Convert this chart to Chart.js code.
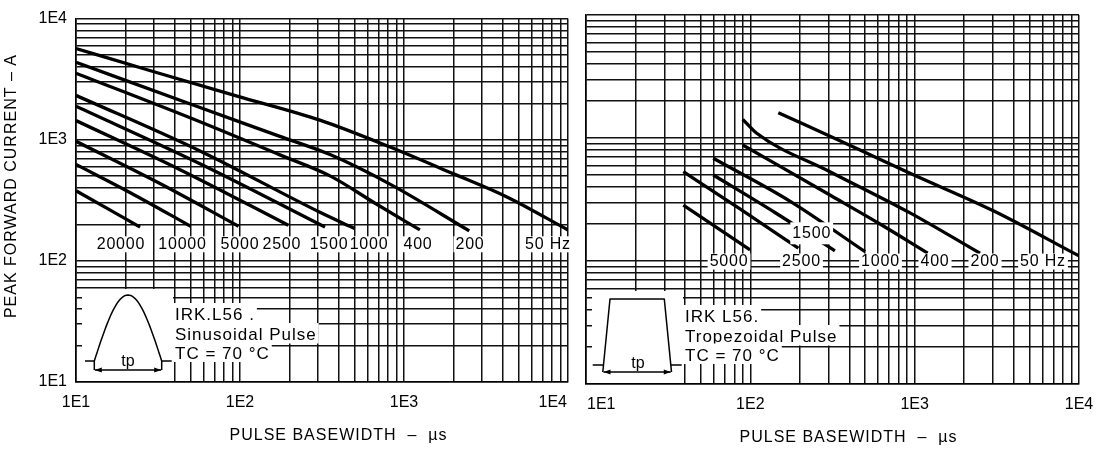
<!DOCTYPE html>
<html>
<head>
<meta charset="utf-8">
<script src="https://cdn.jsdelivr.net/npm/chart.js@4.4.1/dist/chart.umd.min.js"></script>
<style>
  html, body { margin: 0; padding: 0; background: #fff; }
  #wrap { position: relative; width: 1106px; height: 449px; overflow: hidden; background: #fff; }
  #cl { position: absolute; left: 0; top: 0; }
  #cr { position: absolute; left: 575px; top: 0; }
</style>
</head>
<body>
<div id="wrap">
  <canvas id="cl" width="575" height="449"></canvas>
  <canvas id="cr" width="531" height="449"></canvas>
</div>
<script>
// Decade ticks shared by both log-log panels
const decadeValues = [10, 100, 1000, 10000];
const decadeLabels = ['1E1', '1E2', '1E3', '1E4'];

// ---- Sinusoidal pulse: pulse basewidth (µs) -> peak forward current (A) ----
const sinNames = ['20000', '10000', '5000', '2500', '1500', '1000', '400', '200', '50 Hz'];
const sin20000Us = [10, 24.6];
const sin20000A  = [379, 190];
const sin10000Us = [10, 21.3, 50];
const sin10000A  = [625, 367, 193];
const sin5000Us  = [10, 32.5, 98];
const sin5000A   = [970, 435, 193];
const sin2500Us  = [10, 43.1, 197];
const sin2500A   = [1439, 566, 197];
const sin1500Us  = [10, 57, 330];
const sin1500A   = [1892, 634, 190];
const sin1000Us  = [10, 57, 307, 500];
const sin1000A   = [2326, 808, 252, 185];
const sin400Us   = [10, 57, 175, 354, 666, 1250];
const sin400A    = [3540, 1407, 750, 503, 299, 180];
const sin200Us   = [10, 57, 175, 354, 821, 2500];
const sin200A    = [4355, 1846, 1066, 754, 430, 177];
const sin50Us    = [10, 29.5, 96, 307, 821, 1990, 4300, 10000];
const sin50A     = [5660, 3660, 2290, 1450, 870, 525, 334, 180];

// ---- Trapezoidal pulse ----
const trapNames = ['5000', '2500', '1500', '1000', '400', '200', '50 Hz'];
const trap5000Us = [39.1, 99.6];
const trap5000A  = [285, 123];
const trap2500Us = [39.1, 86.5, 196];
const trap2500A  = [532, 265, 127];
const trap1500Us = [59.5, 141, 327];
const trap1500A  = [500, 248, 121];
const trap1000Us = [59.5, 174, 499];
const trap1000A  = [684, 307, 119];
const trap400Us  = [89.9, 305, 615, 1200];
const trap400A   = [877, 344, 200, 116];
const trap200Us  = [89.9, 109.3, 305, 937, 2500];
const trap200A   = [1419, 1092, 532, 246, 115.5];
const trap50Us   = [148, 465, 937, 3010, 10000];
const trap50A    = [1606, 799, 516, 256, 110];

const sinCurves = [
  [sin20000Us, sin20000A], [sin10000Us, sin10000A], [sin5000Us, sin5000A],
  [sin2500Us, sin2500A], [sin1500Us, sin1500A], [sin1000Us, sin1000A],
  [sin400Us, sin400A], [sin200Us, sin200A], [sin50Us, sin50A]
];
const trapCurves = [
  [trap5000Us, trap5000A], [trap2500Us, trap2500A], [trap1500Us, trap1500A],
  [trap1000Us, trap1000A], [trap400Us, trap400A], [trap200Us, trap200A],
  [trap50Us, trap50A]
];

// Grid: every integer multiple inside each decade
const gridValues = [];
for (let d = 10; d < 10000; d *= 10) {
  for (let m = 1; m <= 9; m++) gridValues.push(m * d);
}
gridValues.push(10000);

const FONT = '"Liberation Sans", Arial, sans-serif';

function toPoints(xs, ys) { return xs.map((x, i) => ({ x, y: ys[i] })); }

function logAxis(extra) {
  return Object.assign({
    type: 'logarithmic',
    min: 10,
    max: 10000,
    afterBuildTicks: s => {
      s.ticks = gridValues.map(v => ({ value: v, major: decadeValues.includes(v) }));
    },
    grid: { color: '#111', lineWidth: 1.5, drawTicks: false },
    border: { display: true, color: '#000', width: 1.6 },
    ticks: { display: false }
  }, extra);
}

function datasetsFrom(curves) {
  return curves.map(([xs, ys]) => ({
    data: toPoints(xs, ys),
    borderColor: '#000',
    borderWidth: 3.3,
    pointRadius: 0,
    fill: false,
    cubicInterpolationMode: 'monotone',
    borderCapStyle: 'butt'
  }));
}

function labelBox(ctx, text, cx, cy, pad) {
  const w = ctx.measureText(text).width;
  ctx.fillStyle = '#fff';
  ctx.fillRect(cx - w / 2 - 2, cy - 8 - pad, w + 4, 16 + 2 * pad);
  ctx.fillStyle = '#000';
  ctx.fillText(text, cx, cy + 0.5);
}

function arrow(ctx, x1, x2, y) {
  ctx.beginPath(); ctx.moveTo(x1, y); ctx.lineTo(x2, y); ctx.stroke();
  ctx.beginPath();
  ctx.moveTo(x1, y); ctx.lineTo(x1 + 7, y - 2.5); ctx.lineTo(x1 + 7, y + 2.5); ctx.closePath();
  ctx.moveTo(x2, y); ctx.lineTo(x2 - 7, y - 2.5); ctx.lineTo(x2 - 7, y + 2.5); ctx.closePath();
  ctx.fill();
}

// Annotations for one panel: pulse sketch, caption, curve names, tick labels, axis titles
function panelDecor(cfg) {
  return {
    id: 'decor_' + cfg.id,
    afterDatasetsDraw(chart) {
      const { ctx, chartArea: a, scales: { x, y } } = chart;
      const L = a.left, B = a.bottom;
      ctx.save();
      ctx.strokeStyle = '#000';
      ctx.fillStyle = '#000';
      ctx.lineWidth = 1.5;
      ctx.lineJoin = 'round';

      // pulse sketch inset
      ctx.fillStyle = '#fff';
      ctx.fillRect(L + 6, B - 93, 91, 92);
      ctx.fillStyle = '#000';
      if (cfg.pulse === 'sine') {
        ctx.beginPath();
        for (let i = 0; i <= 50; i++) {
          const t = i / 50;
          const px = L + 18.3 + 67.4 * t;
          const py = B - 21 - 66 * Math.sin(Math.PI * t);
          if (i === 0) ctx.moveTo(px, py); else ctx.lineTo(px, py);
        }
        ctx.stroke();
        ctx.beginPath();
        ctx.moveTo(L + 18.3, B - 21); ctx.lineTo(L + 18.3, B - 12);
        ctx.moveTo(L + 85.7, B - 21); ctx.lineTo(L + 85.7, B - 12);
        ctx.moveTo(L + 9, B - 21); ctx.lineTo(L + 18.3, B - 21);
        ctx.moveTo(L + 85.7, B - 21); ctx.lineTo(L + 95.7, B - 21);
        ctx.stroke();
        arrow(ctx, L + 18.8, L + 85.2, B - 12);
      } else {
        ctx.beginPath();
        ctx.moveTo(L + 16.8, B - 12);
        ctx.lineTo(L + 24, B - 85);
        ctx.lineTo(L + 78.3, B - 85);
        ctx.lineTo(L + 85.5, B - 12);
        ctx.stroke();
        ctx.beginPath();
        ctx.moveTo(L + 6.7, B - 19); ctx.lineTo(L + 17.5, B - 19);
        ctx.moveTo(L + 84.7, B - 19); ctx.lineTo(L + 95.7, B - 19);
        ctx.stroke();
        arrow(ctx, L + 17.5, L + 84.8, B - 12);
      }
      ctx.font = '16px ' + FONT;
      ctx.textAlign = 'center';
      ctx.textBaseline = 'alphabetic';
      ctx.fillText('tp', L + 52, B - 16.5);

      // caption rows
      ctx.font = '17px ' + FONT;
      ctx.letterSpacing = '1px';
      ctx.textAlign = 'left';
      const rowBase = [B - 62, B - 42, B - 23.5];
      cfg.caption.forEach((line, i) => {
        const w = ctx.measureText(line).width;
        ctx.fillStyle = '#fff';
        ctx.fillRect(L + 97, rowBase[i] - 17, w + 4, 20.5);
        ctx.fillStyle = '#000';
        ctx.fillText(line, L + 99, rowBase[i]);
      });

      // curve names
      ctx.font = '16px ' + FONT;
      ctx.letterSpacing = '0.8px';
      ctx.textAlign = 'center';
      ctx.textBaseline = 'middle';
      cfg.names.forEach((name, i) => {
        const [vx, vy] = cfg.nameAt[i];
        labelBox(ctx, name, x.getPixelForValue(vx), y.getPixelForValue(vy), cfg.namePad ? cfg.namePad[i] : 0);
      });
      ctx.letterSpacing = '0px';
      ctx.restore();
    },
    afterDraw(chart) {
      const { ctx, chartArea: a, scales: { x } } = chart;
      ctx.save();
      ctx.fillStyle = '#000';
      ctx.font = '16px ' + FONT;
      ctx.textBaseline = 'alphabetic';
      decadeValues.forEach((v, i) => {
        const px = x.getPixelForValue(v);
        const al = cfg.xAlign[i];
        ctx.textAlign = al;
        const off = al === 'right' ? -1 : (al === 'left' ? 1 : 0);
        ctx.fillText(decadeLabels[i], px + off, a.bottom + 24.5);
      });
      ctx.letterSpacing = '1px';
      ctx.textAlign = 'center';
      ctx.fillText(cfg.xTitle, a.left + 262.5, a.bottom + 58);
      if (cfg.yTitle) {
        ctx.save();
        ctx.translate(a.left - 64.5, a.top + 167.5);
        ctx.rotate(-Math.PI / 2);
        ctx.textBaseline = 'middle';
        ctx.fillText(cfg.yTitle, 0, 0);
        ctx.restore();
      }
      ctx.letterSpacing = '0px';
      ctx.restore();
    }
  };
}

const xTitle = 'PULSE BASEWIDTH  –  µs';

new Chart(document.getElementById('cl'), {
  type: 'line',
  data: { datasets: datasetsFrom(sinCurves) },
  options: {
    responsive: false,
    animation: false,
    devicePixelRatio: 1,
    events: [],
    layout: { padding: { top: 14, right: 7, left: 0, bottom: 0 } },
    plugins: { legend: { display: false }, tooltip: { enabled: false } },
    scales: {
      x: logAxis({ afterFit: s => { s.height = 67; } }),
      y: logAxis({
        afterFit: s => { s.width = 76; },
        ticks: {
          display: true,
          autoSkip: false,
          padding: 9,
          color: '#000',
          font: { family: FONT, size: 16 },
          callback: v => {
            const i = decadeValues.indexOf(v);
            return i >= 0 ? decadeLabels[i] : '';
          }
        }
      })
    }
  },
  plugins: [panelDecor({
    id: 'sin',
    pulse: 'sine',
    caption: ['IRK.L56 .', 'Sinusoidal Pulse', 'TC = 70 °C'],
    names: sinNames,
    nameAt: [[18.8, 137], [44.6, 137], [100, 137], [180, 137], [349, 137],
             [612, 137], [1217, 137], [2526, 137], [7551, 137]],
    xAlign: ['center', 'center', 'center', 'right'],
    xTitle: xTitle,
    yTitle: 'PEAK FORWARD CURRENT – A'
  })]
});

new Chart(document.getElementById('cr'), {
  type: 'line',
  data: { datasets: datasetsFrom(trapCurves) },
  options: {
    responsive: false,
    animation: false,
    devicePixelRatio: 1,
    events: [],
    layout: { padding: { top: 15, right: 27, left: 0, bottom: 0 } },
    plugins: { legend: { display: false }, tooltip: { enabled: false } },
    scales: {
      x: logAxis({ afterFit: s => { s.height = 65; } }),
      y: logAxis({ afterFit: s => { s.width = 11; } })
    }
  },
  plugins: [panelDecor({
    id: 'trap',
    pulse: 'trap',
    caption: ['IRK L56.', 'Tropezoidal Pulse', 'TC = 70 °C'],
    names: trapNames,
    nameAt: [[74.2, 99], [204.8, 99], [236.3, 168], [619.6, 99],
             [1330, 99], [2680, 99], [6040, 99]],
    namePad: [0, 0, 3, 0, 0, 0, 0],
    xAlign: ['left', 'center', 'center', 'center'],
    xTitle: xTitle
  })]
});
</script>
</body>
</html>
